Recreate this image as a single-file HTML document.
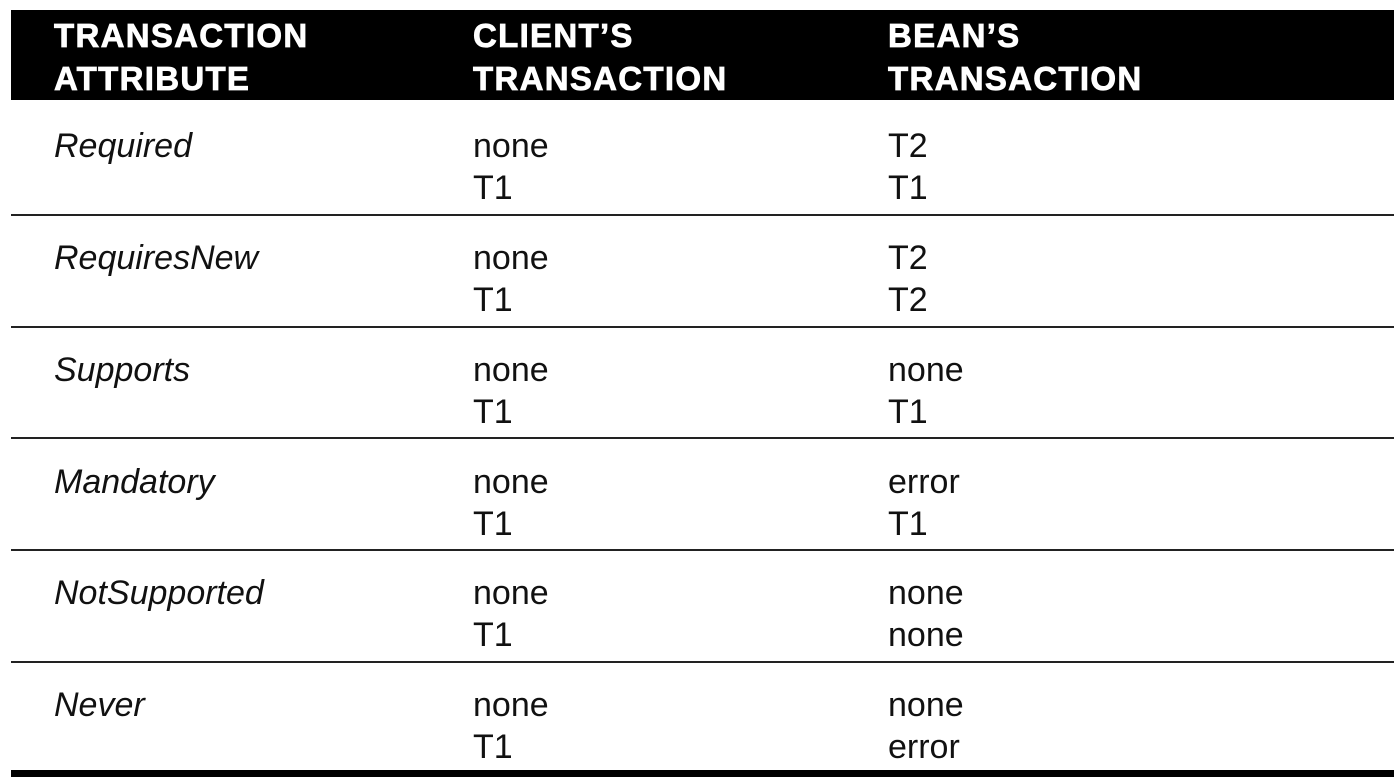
<!DOCTYPE html>
<html><head><meta charset="utf-8"><style>
html,body{margin:0;padding:0;background:#fff;width:1400px;height:783px;overflow:hidden;position:relative}
.band{position:absolute;left:11px;top:10px;width:1383px;height:90px;background:#000}
.h{position:absolute;color:#fff;font:bold 33px/43px "Liberation Sans",sans-serif;letter-spacing:1.3px;top:14px;-webkit-text-stroke:0.8px #fff}
.line{position:absolute;left:11px;width:1383px;height:2px;background:#222}
.t{position:absolute;font:34px/42px "Liberation Sans",sans-serif;color:#111;white-space:nowrap}
.i{font-style:italic}
</style></head><body>
<div class="band"></div>
<div class="h" style="left:54px">TRANSACTION<br>ATTRIBUTE</div>
<div class="h" style="left:473px">CLIENT’S<br>TRANSACTION</div>
<div class="h" style="left:888px">BEAN’S<br>TRANSACTION</div>

<div class="t i" style="left:54px;top:125px">Required</div>
<div class="t" style="left:473px;top:125px">none<br>T1</div>
<div class="t" style="left:888px;top:125px">T2<br>T1</div>
<div class="line" style="top:214px"></div>

<div class="t i" style="left:54px;top:237px">RequiresNew</div>
<div class="t" style="left:473px;top:237px">none<br>T1</div>
<div class="t" style="left:888px;top:237px">T2<br>T2</div>
<div class="line" style="top:326px"></div>

<div class="t i" style="left:54px;top:349px">Supports</div>
<div class="t" style="left:473px;top:349px">none<br>T1</div>
<div class="t" style="left:888px;top:349px">none<br>T1</div>
<div class="line" style="top:437px"></div>

<div class="t i" style="left:54px;top:461px">Mandatory</div>
<div class="t" style="left:473px;top:461px">none<br>T1</div>
<div class="t" style="left:888px;top:461px">error<br>T1</div>
<div class="line" style="top:549px"></div>

<div class="t i" style="left:54px;top:572px">NotSupported</div>
<div class="t" style="left:473px;top:572px">none<br>T1</div>
<div class="t" style="left:888px;top:572px">none<br>none</div>
<div class="line" style="top:661px"></div>

<div class="t i" style="left:54px;top:684px">Never</div>
<div class="t" style="left:473px;top:684px">none<br>T1</div>
<div class="t" style="left:888px;top:684px">none<br>error</div>
<div class="line" style="top:770px;height:7px;background:#000"></div>
</body></html>
